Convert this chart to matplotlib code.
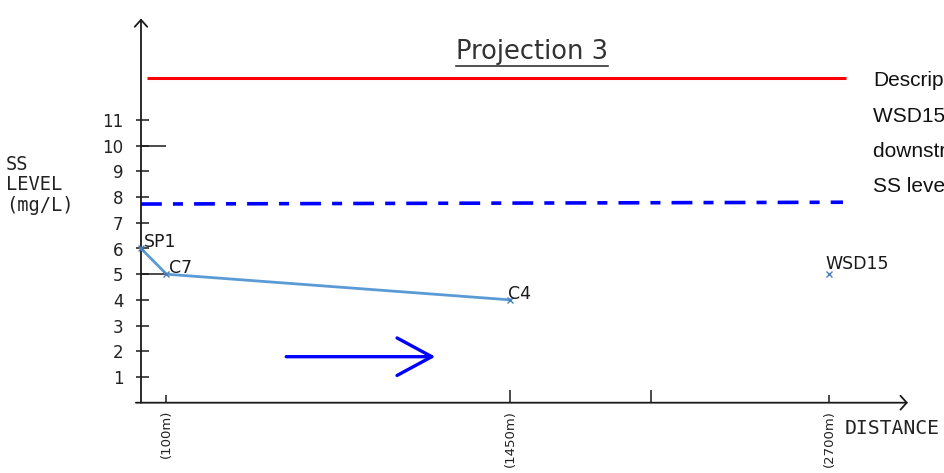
import matplotlib
matplotlib.use("Agg")
import matplotlib.pyplot as plt
from matplotlib.lines import Line2D

# ---- data -------------------------------------------------------------
stations = ["SP1", "C7", "C4"]
station_dist = [0, 100, 1450]          # m
station_ss = [6.0, 5.0, 4.0]           # mg/L

far_station = "WSD15"
far_dist = 2700
far_ss = 5.0

limit_red = 12.65                      # upper reference level
limit_blue = [7.73, 7.80]              # dashed reference level (start, end)
limit_blue_x = [0, 2755]
limit_red_x = [22, 2765]

y_ticks = list(range(1, 12))
x_ticks = [100, 1450, 2000, 2700]
x_tick_labels = ["(100m)", "(1450m)", "", "(2700m)"]

flow_arrow_x = [570, 1155]
flow_arrow_y = 1.79

note_lines = ["Description:", "WSD15 is located", "downstream of", "SS level"]

# ---- figure -----------------------------------------------------------
plt.rcParams["lines.scale_dashes"] = False

W, H, DPI = 945, 473, 100
fig = plt.figure(figsize=(W / DPI, H / DPI), dpi=DPI)
fig.patch.set_facecolor("white")

px_per_m = 0.2548
x0_px = 141
xmin, xmax = -20, 3010
ymin, ymax = 0, 15
left_px = x0_px + xmin * px_per_m
width_px = (xmax - xmin) * px_per_m
bottom_px = 402.7
height_px = 385.5
ax = fig.add_axes([left_px / W, (H - bottom_px) / H, width_px / W, height_px / H])
ax.set_xlim(xmin, xmax)
ax.set_ylim(ymin, ymax)
ax.set_facecolor("none")
for s in ax.spines.values():
    s.set_visible(False)

label_font = "DejaVu Sans"
axis_col = "#1a1a1a"

# axes drawn as arrows
ax.annotate("", xy=(0, 14.95), xytext=(0, 0),
            arrowprops=dict(arrowstyle="->,head_length=0.5,head_width=0.45",
                            color=axis_col, lw=1.3, shrinkA=0, shrinkB=0,
                            mutation_scale=10), annotation_clip=False)
ax.annotate("", xy=(xmax, 0), xytext=(xmin, 0),
            arrowprops=dict(arrowstyle="->,head_length=0.45,head_width=0.5",
                            color=axis_col, lw=1.3, shrinkA=0, shrinkB=0,
                            mutation_scale=10), annotation_clip=False)

# y ticks
ax.set_yticks(y_ticks)
ax.set_yticklabels([str(v) for v in y_ticks], family=label_font, fontsize=12,
                   color="#222222")
ax.tick_params(axis="y", direction="in", length=9.5, width=1.1,
               color=axis_col, pad=9)
for v in (5, 10):
    ax.plot([0, 100], [v, v], color=axis_col, lw=1.1, solid_capstyle="butt")

# x ticks
ax.set_xticks(x_ticks)
ax.set_xticklabels(x_tick_labels, rotation=90, family="DejaVu Sans",
                   fontsize=9.5, color="#222222", va="top")
ax.tick_params(axis="x", direction="in", length=6, width=1.1,
               color=axis_col, pad=5)
for i, t in enumerate(ax.xaxis.get_major_ticks()):
    if x_ticks[i] in (1450, 2000):
        t.tick1line.set_markersize(9.5)

# reference levels
ax.plot(limit_red_x, [limit_red, limit_red], color="#ff0000", lw=2.2,
        solid_capstyle="butt", clip_on=False)
blue_dash, = ax.plot(limit_blue_x, limit_blue, color="#0000ff", lw=2.6,
                     clip_on=False)
blue_dash.set_dashes([15, 8, 7.2, 8])
blue_dash.set_dash_capstyle("butt")

# monitoring stations
ax.plot(station_dist, station_ss, color="#5b9bd5", lw=2.0, marker="x",
        markersize=4, markeredgecolor="#4a7ebb", markeredgewidth=1.0,
        clip_on=False, zorder=3)
ax.plot([far_dist], [far_ss], linestyle="none", marker="x", markersize=4,
        markeredgecolor="#4a7ebb", markeredgewidth=1.0, clip_on=False)

label_offsets = {"SP1": (2, 1), "C7": (1.5, 1), "C4": (-1.5, 1), "WSD15": (-2.5, 3.5)}
for name, xd, yd in zip(stations + [far_station], station_dist + [far_dist],
                        station_ss + [far_ss]):
    ax.annotate(name, xy=(xd, yd), xytext=label_offsets[name],
                textcoords="offset points", family=label_font, fontsize=12.5,
                ha="left", va="baseline", color="#1a1a1a",
                annotation_clip=False)

# flow direction
ax.annotate("", xy=(flow_arrow_x[1], flow_arrow_y),
            xytext=(flow_arrow_x[0], flow_arrow_y),
            arrowprops=dict(arrowstyle="->,head_length=2.5,head_width=1.35",
                            color="#0000ff", lw=2.4, shrinkA=0, shrinkB=0,
                            mutation_scale=10))

# axis titles
mono = "DejaVu Sans Mono"
for txt, yc in zip(["SS", "LEVEL", "(mg/L)"], [165, 185, 205]):
    fig.text(6 / W, 1 - yc / H, txt, family=mono, fontsize=13.5,
             ha="left", va="center", color="#222222")
fig.text(845 / W, 1 - 428.5 / H, "DISTANCE", family=mono, fontsize=14.2,
         ha="left", va="center", color="#222222")

# chart title, underlined
title = fig.text(532 / W, 1 - 52 / H, "Projection 3", family="DejaVu Sans",
                 fontsize=18.5, ha="center", va="center", color="#333333")
fig.canvas.draw()
bb = title.get_window_extent()
uy = (bb.y0 - 1) / H
fig.add_artist(Line2D([bb.x0 / W, bb.x1 / W], [uy, uy], color="#333333",
                      lw=1.2, transform=fig.transFigure))

# side note (runs past the right edge of the canvas)
for txt, yc in zip(note_lines, [80, 116, 151, 186]):
    fig.text(873 / W, 1 - yc / H, txt, family="Liberation Sans", fontsize=15,
             ha="left", va="center", color="#111111")

fig.savefig("out.png", dpi=DPI, facecolor="white")
